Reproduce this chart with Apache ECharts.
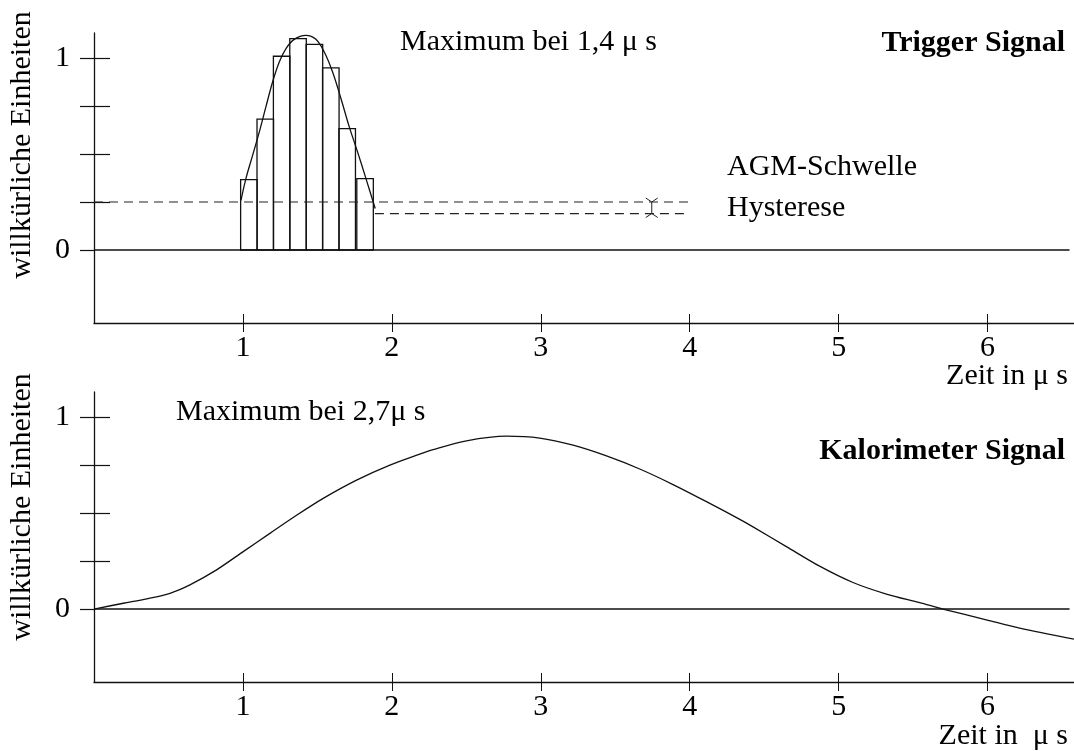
<!DOCTYPE html>
<html>
<head>
<meta charset="utf-8">
<script src="https://cdn.jsdelivr.net/npm/echarts@6/dist/echarts.min.js"></script>
<style>
  html, body { margin: 0; padding: 0; background: #fff; }
  #chart { width: 1074px; height: 751px; }
</style>
</head>
<body>
<div id="chart"></div>
<script>
// ---- Trigger signal (upper panel) ----
// sampled trigger channel: bin centres (µs) and amplitudes
const triggerBinCenters = [1.04, 1.15, 1.26, 1.37, 1.48, 1.59, 1.70, 1.82];
const triggerBinValues  = [0.367, 0.682, 1.009, 1.101, 1.071, 0.948, 0.632, 0.372];
const triggerBinWidth   = 0.111;
// analogue trigger pulse (µs, amplitude)
const triggerCurveT = [0.987, 1.02, 1.065, 1.11, 1.154, 1.199, 1.244, 1.289, 1.344, 1.423, 1.49, 1.546, 1.602, 1.658, 1.714, 1.77, 1.826, 1.888];
const triggerCurveA = [0.259, 0.372, 0.493, 0.615, 0.745, 0.875, 0.979, 1.049, 1.097, 1.118, 1.097, 1.031, 0.927, 0.789, 0.641, 0.51, 0.372, 0.216];
// AGM threshold and hysteresis level
const agmThreshold = 0.25;
const hysteresisLevel = 0.19;
const hysteresisStart = 1.886;
const thresholdEnd = 4.0;
const hysteresisMarkerT = 3.745;

// ---- Calorimeter signal (lower panel) ----
const caloT = [0, 0.197, 0.354, 0.51, 0.644, 0.823, 1.002, 1.181, 1.36, 1.539, 1.763, 1.987, 2.188, 2.277, 2.501, 2.77, 2.993, 3.217, 3.441, 3.664, 3.888, 4.112, 4.336, 4.425, 4.649, 4.872, 5.096, 5.32, 5.544, 5.7, 5.991, 6.215, 6.58];
const caloA = [0, 0.03, 0.053, 0.082, 0.126, 0.204, 0.299, 0.394, 0.488, 0.576, 0.671, 0.749, 0.806, 0.83, 0.876, 0.9, 0.89, 0.853, 0.797, 0.729, 0.648, 0.559, 0.467, 0.428, 0.325, 0.223, 0.138, 0.078, 0.033, 0, -0.056, -0.099, -0.157];

// ---- axes ----
const timeTicks = [1, 2, 3, 4, 5, 6];
const ampTicks = [0.25, 0.5, 0.75, 1];
const ampLabels = [0, 1];
const timeMin = 0, timeMax = 6.58;
const ampMin = -0.38, ampMax = 1.13;
const zeroLineEnd = 6.55;

const FONT = '"Liberation Serif", "Times New Roman", serif';
const INK = '#111';
const zip = (a, b) => a.map((v, i) => [v, b[i]]);

function xAxes(grid) {
  const base = {
    type: 'value', gridIndex: grid, min: timeMin, max: timeMax, position: 'bottom',
    splitLine: { show: false }
  };
  return [
    Object.assign({}, base, {
      axisLine: { show: true, onZero: false, lineStyle: { color: INK, width: 1.3 } },
      axisTick: { show: true, inside: false, length: 9, customValues: timeTicks, lineStyle: { color: INK, width: 1 } },
      axisLabel: { show: true, customValues: timeTicks, margin: 10, color: '#000', fontFamily: FONT, fontSize: 30 }
    }),
    Object.assign({}, base, {
      axisLine: { show: false, onZero: false },
      axisTick: { show: true, inside: true, length: 9, customValues: timeTicks, lineStyle: { color: INK, width: 1 } },
      axisLabel: { show: false }
    })
  ];
}
function yAxes(grid) {
  const base = {
    type: 'value', gridIndex: grid, min: ampMin, max: ampMax, position: 'left',
    splitLine: { show: false }
  };
  return [
    Object.assign({}, base, {
      axisLine: { show: true, onZero: false, lineStyle: { color: INK, width: 1.3 } },
      axisTick: { show: true, inside: false, length: 14, customValues: [0].concat(ampTicks), lineStyle: { color: INK, width: 1.2 } },
      axisLabel: { show: true, customValues: ampLabels, margin: 24, color: '#000', fontFamily: FONT, fontSize: 30 }
    }),
    Object.assign({}, base, {
      axisLine: { show: false, onZero: false },
      axisTick: { show: true, inside: true, length: 16, customValues: ampTicks, lineStyle: { color: INK, width: 1.2 } },
      axisLabel: { show: false }
    })
  ];
}

function text(str, x, y, opts) {
  return {
    type: 'text', x: x, y: y,
    style: Object.assign({ text: str, fill: '#000', font: '30px ' + FONT, textAlign: 'left', textVerticalAlign: 'middle' }, opts || {})
  };
}

const chart = echarts.init(document.getElementById('chart'), null, { renderer: 'canvas' });

chart.setOption({
  animation: false,
  backgroundColor: '#fff',
  grid: [
    { left: 94, top: 33, width: 980, height: 290 },
    { left: 94, top: 392, width: 980, height: 290 }
  ],
  xAxis: xAxes(0).concat(xAxes(1)),
  yAxis: yAxes(0).concat(yAxes(1)),
  graphic: [
    text('Maximum bei 1,4 \u03bc s', 400, 42),
    text('Trigger Signal', 1065, 43, { textAlign: 'right', font: 'bold 30px ' + FONT }),
    text('AGM-Schwelle', 727, 167),
    text('Hysterese', 727, 208),
    text('Zeit in \u03bc s', 1068, 376, { textAlign: 'right' }),
    text('Maximum bei 2,7\u03bc s', 176, 412),
    text('Kalorimeter Signal', 1065, 451, { textAlign: 'right', font: 'bold 30px ' + FONT }),
    text('Zeit in  \u03bc s', 1068, 736, { textAlign: 'right' }),
    Object.assign(text('willkürliche Einheiten', 22, 145, { textAlign: 'center' }), { rotation: Math.PI / 2 }),
    Object.assign(text('willkürliche Einheiten', 22, 507, { textAlign: 'center' }), { rotation: Math.PI / 2 })
  ],
  series: [
    // zero line, upper panel
    {
      type: 'line', xAxisIndex: 0, yAxisIndex: 0, symbol: 'none', silent: true,
      data: [[timeMin, 0], [zeroLineEnd, 0]],
      lineStyle: { color: INK, width: 1.3 }
    },
    // AGM threshold (dashed)
    {
      type: 'line', xAxisIndex: 0, yAxisIndex: 0, symbol: 'none', silent: true,
      data: [[timeMin, agmThreshold], [thresholdEnd, agmThreshold]],
      lineStyle: { color: '#222', width: 1.2, type: [9, 6] }
    },
    // hysteresis level (dashed)
    {
      type: 'line', xAxisIndex: 0, yAxisIndex: 0, symbol: 'none', silent: true,
      data: [[hysteresisStart, hysteresisLevel], [thresholdEnd, hysteresisLevel]],
      lineStyle: { color: '#222', width: 1.2, type: [9, 6] }
    },
    // sampled trigger bins
    {
      type: 'custom', xAxisIndex: 0, yAxisIndex: 0, silent: true,
      data: zip(triggerBinCenters, triggerBinValues),
      renderItem: function (params, api) {
        const c = api.value(0), v = api.value(1);
        const p0 = api.coord([c - triggerBinWidth / 2, v]);
        const p1 = api.coord([c + triggerBinWidth / 2, 0]);
        return {
          type: 'rect',
          shape: { x: p0[0], y: p0[1], width: p1[0] - p0[0], height: p1[1] - p0[1] },
          style: { fill: 'none', stroke: '#111', lineWidth: 1.3 }
        };
      }
    },
    // analogue trigger pulse
    {
      type: 'line', xAxisIndex: 0, yAxisIndex: 0, symbol: 'none', smooth: 0.35, silent: true,
      data: zip(triggerCurveT, triggerCurveA),
      lineStyle: { color: INK, width: 1.3 }
    },
    // hysteresis marker between threshold and hysteresis level
    {
      type: 'custom', xAxisIndex: 0, yAxisIndex: 0, silent: true,
      data: [[hysteresisMarkerT, agmThreshold, hysteresisLevel]],
      renderItem: function (params, api) {
        const top = api.coord([api.value(0), api.value(1)]);
        const bot = api.coord([api.value(0), api.value(2)]);
        const x = top[0], a = 6, h = 4;
        const st = { stroke: '#222', lineWidth: 1, fill: 'none' };
        return {
          type: 'group',
          children: [
            { type: 'line', shape: { x1: x, y1: top[1], x2: x, y2: bot[1] }, style: st },
            { type: 'polyline', shape: { points: [[x - a, top[1] - h], [x, top[1]], [x + a, top[1] - h]] }, style: st },
            { type: 'polyline', shape: { points: [[x - a, bot[1] + h], [x, bot[1]], [x + a, bot[1] + h]] }, style: st }
          ]
        };
      }
    },
    // zero line, lower panel
    {
      type: 'line', xAxisIndex: 2, yAxisIndex: 2, symbol: 'none', silent: true,
      data: [[timeMin, 0], [zeroLineEnd, 0]],
      lineStyle: { color: INK, width: 1.3 }
    },
    // calorimeter pulse
    {
      type: 'line', xAxisIndex: 2, yAxisIndex: 2, symbol: 'none', smooth: 0.3, silent: true,
      data: zip(caloT, caloA),
      lineStyle: { color: INK, width: 1.3 }
    }
  ]
});
</script>
</body>
</html>
